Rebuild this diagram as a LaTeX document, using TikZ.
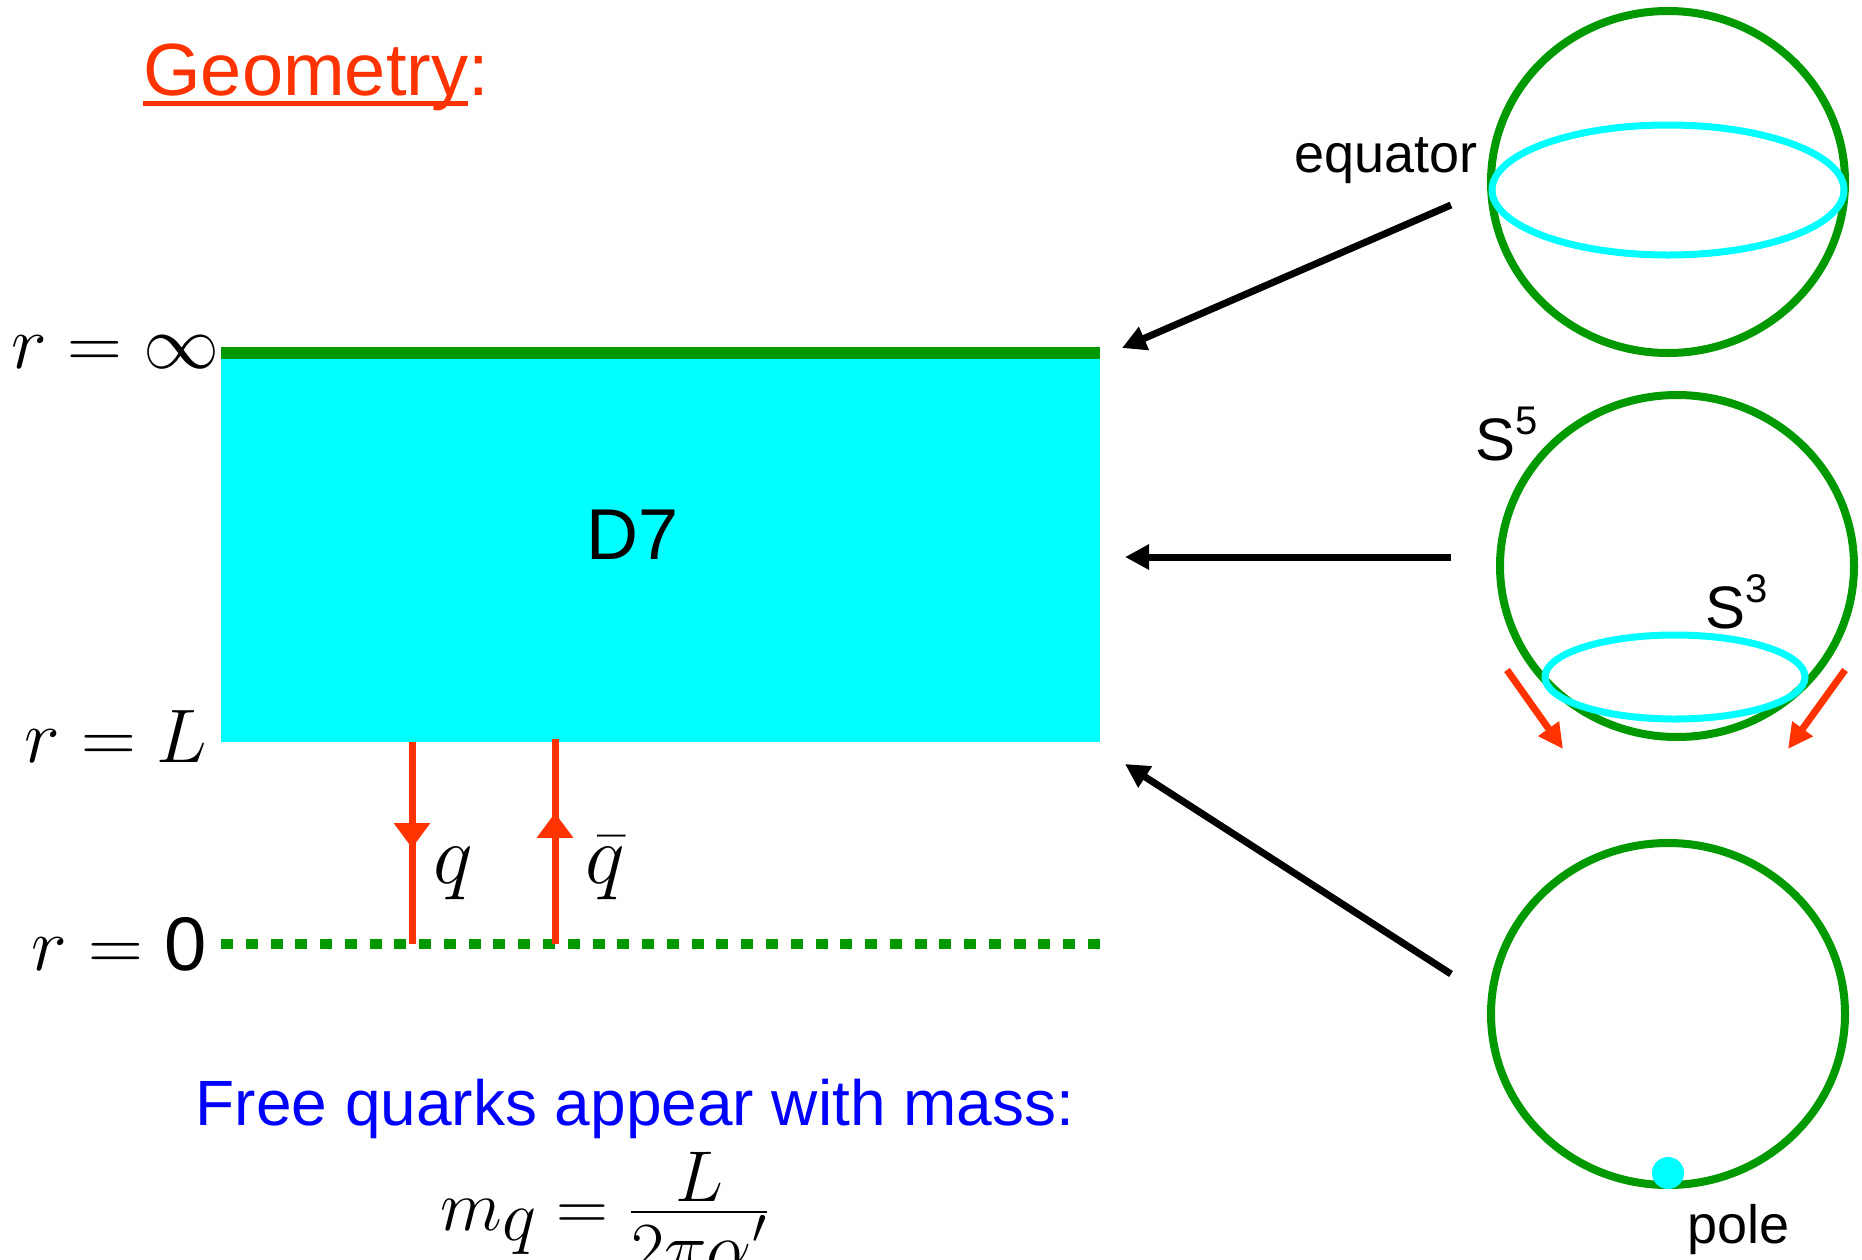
\RequirePackage{fix-cm}
\documentclass[tikz,border=0pt]{standalone}
\usepackage{amsmath}
\usepackage[no-math]{fontspec}
\setmainfont{Liberation Sans}
\usepackage{tikz}
\usetikzlibrary{arrows.meta,positioning,shapes.geometric,fit,decorations.markings}
\definecolor{geoGreen}{HTML}{009900}
\definecolor{geoCyan}{HTML}{00FFFF}
\definecolor{geoRed}{HTML}{FF3300}
\definecolor{geoBlue}{HTML}{0000FF}
\tikzset{
  geo/sphere/.style={draw=geoGreen, line width=4pt, ellipse, inner sep=0pt, minimum width=177pt, minimum height=171pt},
  geo/ring/.style={draw=geoCyan, line width=3.5pt, ellipse, inner sep=0pt},
  geo/brane/.style={fill=geoCyan, inner sep=0pt},
  geo/text/.style={inner sep=0pt, font=\fontsize{27}{30}\selectfont},
  geo/sup/.style={inner sep=0pt, anchor=base west, font=\fontsize{30}{34}\selectfont},
  geo/math/.style={inner sep=0pt, anchor=base east, font=\fontsize{38}{42}\selectfont},
  geo/qlabel/.style={inner sep=0pt, anchor=base west, font=\fontsize{42}{46}\selectfont},
  geo/arr/.style={line width=3.5pt, -{Triangle[length=12pt,width=12pt]}},
  geo/push/.style={geoRed, line width=3.5pt, -{Triangle[length=12.5pt,width=12pt]}},
  geo/quark/.style={geoRed, line width=3.5pt, postaction={decorate},
    decoration={markings, mark=at position #1 with {\arrow{Triangle[length=12.5pt,width=17.5pt]}}}}
}
\newcommand{\geoul}[1]{\setbox0\hbox{#1}\rlap{\color{geoRed}\rule[-5.5pt]{\wd0}{2.5pt}}\box0}
\newcommand{\geosup}[1]{\raisebox{13pt}{\fontsize{20}{20}\selectfont #1}}

\begin{document}
\begin{tikzpicture}[x=0.5pt, y=-0.5pt]
  \useasboundingbox (0,0) rectangle (1862,1259);

  \node[anchor=base west, inner sep=0pt, text=geoRed, font=\fontsize{37}{40}\selectfont] (title) at (143,95) {\geoul{Geometry}:};

  % brane and the two ends
  \coordinate (bNW) at (221,353);
  \coordinate (bSE) at (1100,742);
  \node[geo/brane, fit=(bNW)(bSE)] (brane) {};
  \draw[geoGreen, line width=6pt] (brane.north west) -- (brane.north east);
  \coordinate (zeroW) at (221,944);
  \coordinate (zeroE) at (1100,944);
  \draw[geoGreen, line width=5pt, dash pattern=on 6pt off 6.386pt] (zeroW) -- (zeroE);
  \node[inner sep=0pt, font=\fontsize{36}{40}\selectfont] (d7) at (633,535) {D7};

  \node[geo/math] (rinf) at (220,368) {$r=\infty$};
  \node[geo/math] (rL) at (208,762) {$r=L$};
  \node[geo/math] (rzero) at (207,970) {$r=\mbox{0}$};

  % quark strings
  \coordinate (qTop) at (412,742);
  \coordinate (qBot) at (412,944);
  \coordinate (qbTop) at (555,739);
  \coordinate (qbBot) at (555,944);
  \draw[geo/quark=0.525] (qTop) -- (qBot);
  \draw[geo/quark=0.64] (qbBot) -- (qbTop);
  \node[geo/qlabel] (qlab) at (433,883) {$q$};
  \node[geo/qlabel] (qblab) at (585,883) {$\bar{q}$};

  \node[anchor=base, inner sep=0pt, text=geoBlue, font=\fontsize{32}{36}\selectfont] (free) at (635,1125) {Free quarks appear with mass:};
  \node[anchor=base west, inner sep=0pt, font=\fontsize{36}{40}\selectfont] (mass) at (440,1230) {$m_{\textstyle q}=\frac{\displaystyle L}{\displaystyle 2\pi\alpha'}$};

  % spheres
  \node[geo/sphere] (sEq) at (1668,182) {};
  \node[geo/ring, minimum width=176pt, minimum height=65pt] (equator) at (1668,190) {};
  \node[geo/text, anchor=base east] (eqlab) at (1478,172) {equator};

  \node[geo/sphere] (sFive) at (1677,566) {};
  \node[geo/ring, minimum width=130pt, minimum height=42pt] (sThree) at (1675,677) {};
  \node[geo/sup] (fivelab) at (1475,460) {S\geosup{5}};
  \node[geo/sup] (threelab) at (1705,628) {S\geosup{3}};

  \node[geo/sphere] (sPole) at (1668,1014) {};
  \node[circle, fill=geoCyan, minimum size=16pt, inner sep=0pt] (pole) at (1668,1173) {};
  \node[geo/text, anchor=base west] (polelab) at (1687,1243) {pole};

  % arrows
  \coordinate (t1) at (1451,205);
  \coordinate (h1) at (1122,348);
  \coordinate (t2) at (1451,557);
  \coordinate (h2) at (1125,557);
  \coordinate (t3) at (1451,974);
  \coordinate (h3) at (1125,764);
  \draw[geo/arr] (t1) -- (h1);
  \draw[geo/arr] (t2) -- (h2);
  \draw[geo/arr] (t3) -- (h3);

  \coordinate (pL) at (1507,670);
  \coordinate (pLh) at (1563,749);
  \coordinate (pR) at (1845,670);
  \coordinate (pRh) at (1788,749);
  \draw[geo/push] (pL) -- (pLh);
  \draw[geo/push] (pR) -- (pRh);
\end{tikzpicture}
\end{document}
